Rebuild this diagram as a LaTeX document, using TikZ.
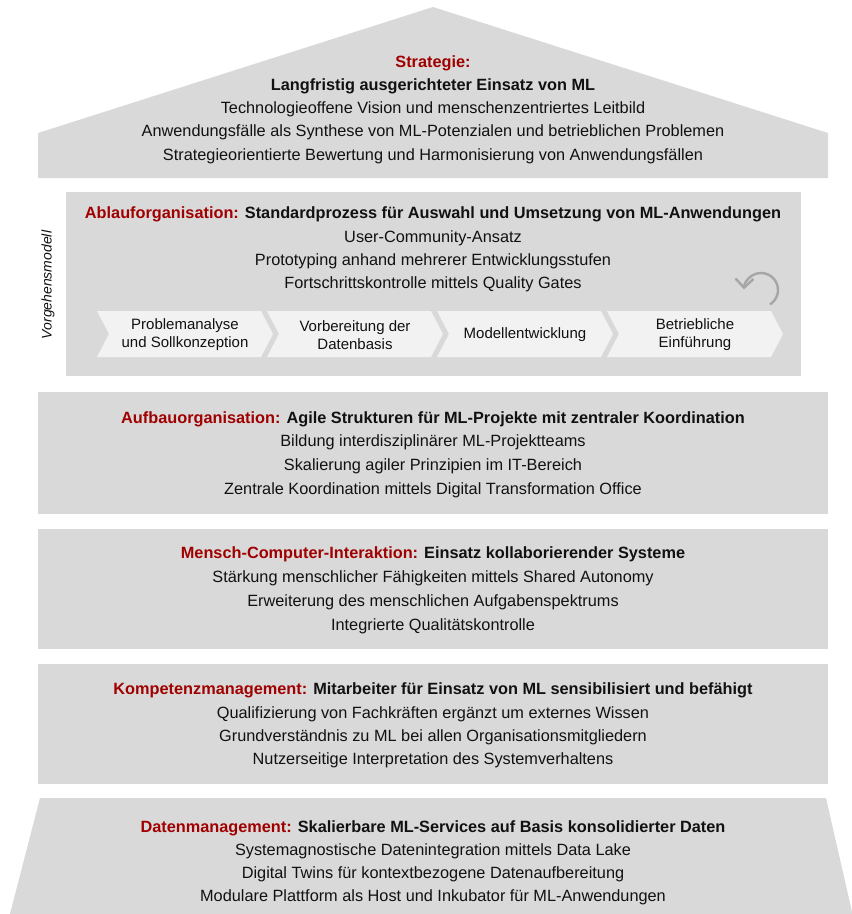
\documentclass[tikz,border=0pt]{standalone}
\usepackage{fontspec}
\setmainfont{Liberation Sans}
\usetikzlibrary{arrows.meta}
\definecolor{boxgray}{HTML}{D9D9D9}
\definecolor{chevgray}{HTML}{F2F2F2}
\definecolor{darkred}{HTML}{A00000}
\definecolor{arrowgray}{HTML}{A6A6A6}
\definecolor{txt}{HTML}{111111}
\begin{document}
\begin{tikzpicture}[x=1pt,y=-1pt,
  txtline/.style={anchor=base, inner sep=0pt, text=txt, font=\fontsize{16.3}{19}\selectfont},
  headline/.style={txtline, font=\fontsize{16.3}{19}\selectfont\bfseries},
  chevtext/.style={align=center, inner sep=0pt, text=txt, font=\fontsize{15}{18}\selectfont},
  panel/.style={fill=boxgray},
  chevfill/.style={fill=chevgray},
  cyclearrow/.style={draw=arrowgray, line width=2.4pt, -{Straight Barb[length=9pt,width=18pt]}}
]
\useasboundingbox (0,0) rectangle (852,914);

% roof
\fill[panel] (38,133) -- (433,7) -- (828,133) -- (828,178) -- (38,178) -- cycle;
% Ablauforganisation
\fill[panel] (66,192) rectangle (801,375.5);
% Aufbau
\fill[panel] (38,392) rectangle (828,513.5);
% Mensch
\fill[panel] (38,528.5) rectangle (828,649);
% Kompetenz
\fill[panel] (38,663.5) rectangle (828,784);
% Daten (trapezoid)
\fill[panel] (40,798) -- (826,798) -- (852.5,914) -- (10,914) -- cycle;

% Strategie text
\node[headline, text=darkred] (s0) at (433,67.5) {Strategie:};
\node[headline] (s1) at (433,90.5) {Langfristig ausgerichteter Einsatz von ML};
\node[txtline] (s2) at (433,113.5) {Technologieoffene Vision und menschenzentriertes Leitbild};
\node[txtline] (s3) at (433,136.5) {Anwendungsfälle als Synthese von ML-Potenzialen und betrieblichen Problemen};
\node[txtline] (s4) at (433,160) {Strategieorientierte Bewertung und Harmonisierung von Anwendungsfällen};

% Ablauf text
\node[headline] (a0) at (433,218.5) {\textcolor{darkred}{Ablauforganisation:} Standardprozess für Auswahl und Umsetzung von ML-Anwendungen};
\node[txtline] (a1) at (433,242.5) {User-Community-Ansatz};
\node[txtline] (a2) at (433,265.5) {Prototyping anhand mehrerer Entwicklungsstufen};
\node[txtline] (a3) at (433,288.5) {Fortschrittskontrolle mittels Quality Gates};

% Vorgehensmodell
\node[rotate=90, inner sep=0pt, text=txt, font=\fontsize{14}{16}\selectfont\itshape] (vm) at (48,285) {Vorgehensmodell};

% chevrons
\foreach \x/\nm in {97/c1,267/c2,437/c3,607/c4}{
  \fill[chevfill] (\x,311) -- (\x+164,311) -- (\x+176,334) -- (\x+164,357) -- (\x,357) -- (\x+12,334) -- cycle;
  \coordinate (\nm) at (\x+88,335);
}
\node[chevtext] (t1) at (c1) {Problemanalyse\\und Sollkonzeption};
\node[chevtext] (t2) at (c2) {Vorbereitung der\\Datenbasis};
\node[chevtext] (t3) at (c3) {Modellentwicklung};
\node[chevtext] (t4) at (c4) {Betriebliche\\Einführung};

% cycle arrow
\coordinate (cc) at (761,290);
\draw[cyclearrow] ([shift={(58:17)}]cc) arc[start angle=58, end angle=-178, radius=17];

% Aufbau text
\node[headline] (b0) at (433,423.5) {\textcolor{darkred}{Aufbauorganisation:} Agile Strukturen für ML-Projekte mit zentraler Koordination};
\node[txtline] (b1) at (433,446.5) {Bildung interdisziplinärer ML-Projektteams};
\node[txtline] (b2) at (433,470.5) {Skalierung agiler Prinzipien im IT-Bereich};
\node[txtline] (b3) at (433,494.5) {Zentrale Koordination mittels Digital Transformation Office};

% Mensch text
\node[headline] (m0) at (433,558.5) {\textcolor{darkred}{Mensch-Computer-Interaktion:} Einsatz kollaborierender Systeme};
\node[txtline] (m1) at (433,582.5) {Stärkung menschlicher Fähigkeiten mittels Shared Autonomy};
\node[txtline] (m2) at (433,606.5) {Erweiterung des menschlichen Aufgabenspektrums};
\node[txtline] (m3) at (433,630.5) {Integrierte Qualitätskontrolle};

% Kompetenz text
\node[headline] (k0) at (433,694.5) {\textcolor{darkred}{Kompetenzmanagement:} Mitarbeiter für Einsatz von ML sensibilisiert und befähigt};
\node[txtline] (k1) at (433,718.5) {Qualifizierung von Fachkräften ergänzt um externes Wissen};
\node[txtline] (k2) at (433,741.5) {Grundverständnis zu ML bei allen Organisationsmitgliedern};
\node[txtline] (k3) at (433,764.5) {Nutzerseitige Interpretation des Systemverhaltens};

% Daten text
\node[headline] (d0) at (433,832.5) {\textcolor{darkred}{Datenmanagement:} Skalierbare ML-Services auf Basis konsolidierter Daten};
\node[txtline] (d1) at (433,855.5) {Systemagnostische Datenintegration mittels Data Lake};
\node[txtline] (d2) at (433,878.5) {Digital Twins für kontextbezogene Datenaufbereitung};
\node[txtline] (d3) at (433,901.5) {Modulare Plattform als Host und Inkubator für ML-Anwendungen};
\end{tikzpicture}
\end{document}
